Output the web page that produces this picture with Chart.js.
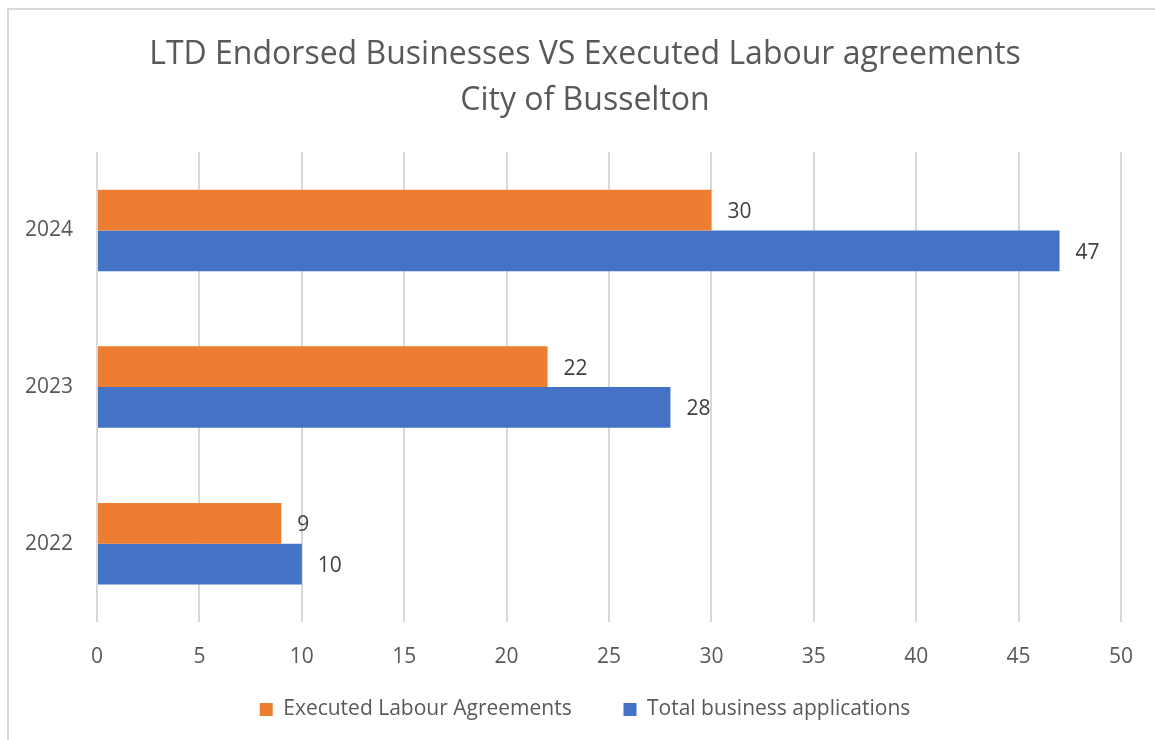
<!DOCTYPE html>
<html>
<head>
<meta charset="utf-8">
<script src="https://cdn.jsdelivr.net/npm/chart.js@4"></script>
<style>
  body { margin: 0; background: #fff; overflow: hidden; }
  #wrap { position: relative; width: 1155px; height: 740px; overflow: hidden; }
  #frame { position: absolute; left: 7px; top: 8px; width: 1200px; height: 800px;
           border-left: 2px solid #d9d9d9; border-top: 2px solid #d9d9d9; pointer-events: none; }
</style>
</head>
<body>
<div id="wrap">
  <canvas id="chart"></canvas>
  <div id="frame"></div>
</div>
<script>
// Data
const years = ['2024', '2023', '2022'];
const executedAgreements = [30, 22, 9];
const totalApplications = [47, 28, 10];
const titleLines = ['LTD Endorsed Businesses VS Executed Labour agreements', 'City of Busselton'];

const FONT = "'Open Sans', 'Noto Sans', sans-serif";
const TEXT = '#595959';

// value labels at the end of each bar
const barLabels = {
  id: 'barLabels',
  afterDatasetsDraw(chart) {
    const ctx = chart.ctx;
    ctx.save();
    ctx.font = `21px ${FONT}`;
    ctx.fillStyle = '#404040';
    ctx.textAlign = 'left';
    ctx.textBaseline = 'middle';
    chart.data.datasets.forEach((ds, i) => {
      chart.getDatasetMeta(i).data.forEach((bar, j) => {
        ctx.fillText(String(ds.data[j]), bar.x + 16, bar.y + 2);
      });
    });
    ctx.restore();
  }
};

new Chart(document.getElementById('chart'), {
  type: 'bar',
  data: {
    labels: years,
    datasets: [
      { label: 'Executed Labour Agreements', data: executedAgreements, backgroundColor: '#ED7D31' },
      { label: 'Total business applications', data: totalApplications, backgroundColor: '#4472C4' }
    ]
  },
  options: {
    indexAxis: 'y',
    responsive: true,
    maintainAspectRatio: false,
    animation: false,
    categoryPercentage: 0.52,
    barPercentage: 1.0,
    layout: { padding: { top: 0, left: 15, right: 0, bottom: 10 } },
    plugins: {
      title: {
        display: true,
        text: titleLines,
        color: TEXT,
        font: { family: FONT, size: 32, weight: 'normal', lineHeight: 1.44 },
        padding: { top: 32, bottom: 28 }
      },
      legend: {
        position: 'bottom',
        labels: {
          color: TEXT,
          font: { family: FONT, size: 21 },
          boxWidth: 13,
          boxHeight: 13,
          padding: 30,
          // wider gap between the two entries, like the original legend
          generateLabels(chart) {
            const items = Chart.defaults.plugins.legend.labels.generateLabels(chart);
            items.forEach((it, i) => { if (i < items.length - 1) it.text += '    '; });
            return items;
          }
        }
      },
      tooltip: { enabled: false }
    },
    scales: {
      x: {
        min: 0,
        max: 50,
        ticks: { stepSize: 5, color: TEXT, font: { family: FONT, size: 21 }, padding: 22 },
        grid: { color: '#d9d9d9', lineWidth: 2, drawTicks: false },
        border: { display: false },
        afterFit(scale) { scale.height = 47; }
      },
      y: {
        ticks: { color: TEXT, font: { family: FONT, size: 21 }, padding: 24 },
        grid: { display: false, drawTicks: false },
        border: { display: false },
        afterFit(scale) { scale.width = 82; }
      },
      // empty spacer on the right so the plot ends where the original does
      yRight: {
        type: 'linear',
        position: 'right',
        ticks: { display: false },
        grid: { display: false, drawTicks: false },
        border: { display: false },
        afterFit(scale) { scale.width = 34; }
      }
    }
  },
  plugins: [barLabels]
});
</script>
</body>
</html>
